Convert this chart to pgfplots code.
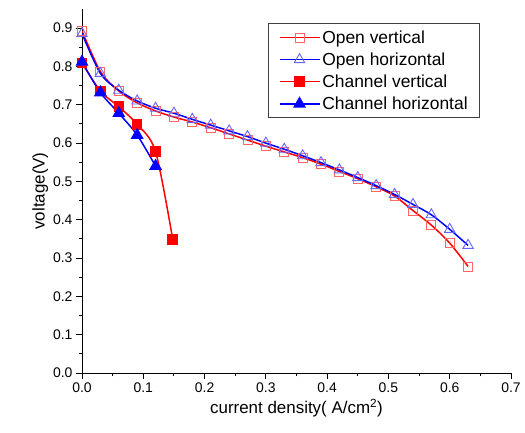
\documentclass[border=0pt]{standalone}
\usepackage{pgfplots}
\pgfplotsset{compat=1.18}
\usepackage{fontspec}
\setmainfont{Liberation Sans}
\begin{document}
\begin{tikzpicture}
\begin{axis}[
  name=ax,
  scale only axis,
  width=429bp, height=364bp,
  xmin=0, xmax=0.7, ymin=0, ymax=0.95,
  xtick={0,0.1,...,0.7}, ytick={0,0.1,...,0.9},
  minor x tick num=1, minor y tick num=1,
  axis x line=bottom, axis y line=left,
  axis line style={-, line width=0.9pt},
  tick align=outside,
  major tick length=6bp, minor tick length=3.5bp,
  every tick/.style={black, line width=0.9pt},
  /pgf/number format/assume math mode=true,
  /pgf/number format/.cd, fixed, fixed zerofill, precision=1, /pgfplots/.cd,
  ticklabel style={font=\fontsize{14}{16}\selectfont},
  xlabel={current density( A/cm\textsuperscript{2})},
  ylabel={voltage(V)},
  label style={font=\fontsize{17}{20}\selectfont},
  ylabel style={yshift=-2bp},
  legend style={at={(0.928,0.9615)}, anchor=north east, draw=black!75, line width=0.9pt,
    font=\fontsize{17.5}{20}\selectfont, row sep=4bp, inner xsep=10bp, inner ysep=5bp},
  legend cell align=left,
  legend image code/.code={\draw[mark repeat=2,mark phase=2] plot coordinates {(0bp,0bp) (20bp,0bp) (40bp,0bp)};},
]
\addplot[red, line width=1.5pt, smooth, mark=square, mark size=4.5bp,
  mark options={draw=red!60, fill=white, line width=0.9pt, solid}] coordinates {
(0,0.893) (0.03,0.787) (0.06,0.736) (0.09,0.705) (0.12,0.684) (0.15,0.668)
(0.18,0.655) (0.21,0.640) (0.24,0.624) (0.27,0.608) (0.30,0.592) (0.33,0.577)
(0.36,0.562) (0.39,0.545) (0.42,0.526) (0.45,0.507) (0.48,0.486) (0.51,0.462)
(0.54,0.424) (0.57,0.386) (0.60,0.339) (0.63,0.278)};
\addlegendentry{Open vertical}
\addplot[blue, line width=1.5pt, smooth, mark=triangle, mark size=6bp,
  mark options={draw=blue!60, fill=white, line width=0.9pt, solid}] coordinates {
(0,0.886) (0.03,0.782) (0.06,0.738) (0.09,0.710) (0.12,0.691) (0.15,0.678)
(0.18,0.662) (0.21,0.647) (0.24,0.632) (0.27,0.617) (0.30,0.600) (0.33,0.584)
(0.36,0.567) (0.39,0.549) (0.42,0.530) (0.45,0.510) (0.48,0.489) (0.51,0.466)
(0.54,0.440) (0.57,0.413) (0.60,0.375) (0.63,0.333)};
\addlegendentry{Open horizontal}
\addplot[red, line width=1.5pt, smooth, mark=square*, mark size=4.5bp,
  mark options={fill=red, solid}] coordinates {
(0,0.809) (0.03,0.736) (0.06,0.695) (0.09,0.649) (0.12,0.578) (0.148,0.349)};
\addlegendentry{Channel vertical}
\addplot[blue, line width=1.5pt, smooth, mark=triangle*, mark size=6bp,
  mark options={fill=blue, solid}] coordinates {
(0,0.812) (0.03,0.732) (0.06,0.678) (0.09,0.621) (0.12,0.540)};
\addlegendentry{Channel horizontal}
\end{axis}
\pgfresetboundingbox
\path[use as bounding box] ([xshift=-82bp,yshift=-60bp]ax.south west) rectangle ([xshift=14bp,yshift=9bp]ax.north east);
\end{tikzpicture}
\end{document}
